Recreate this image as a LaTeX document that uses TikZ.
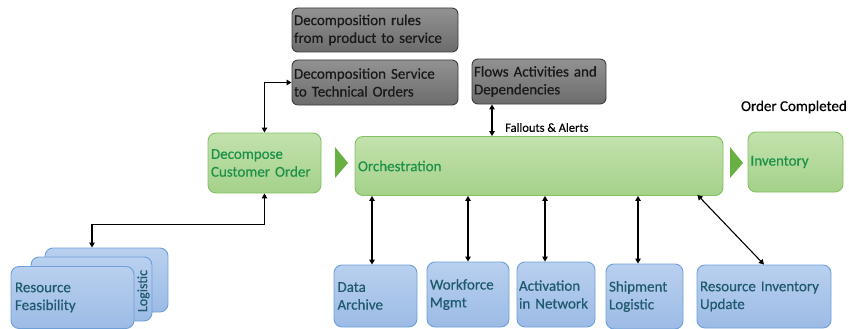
\documentclass[tikz,border=0pt]{standalone}
\usepackage{fontspec}
\setmainfont{Carlito}[FakeBold=0.45]
\usetikzlibrary{arrows.meta,calc}

\definecolor{grnTop}{HTML}{C3E2AD}
\definecolor{grnBot}{HTML}{A4D18A}
\definecolor{grnEdge}{HTML}{82C061}
\definecolor{grnText}{HTML}{1E9148}
\definecolor{chev}{HTML}{69B043}
\definecolor{gryTop}{HTML}{929292}
\definecolor{gryBot}{HTML}{6C6C6C}
\definecolor{gryEdge}{HTML}{3C3C3C}
\definecolor{bluTop}{HTML}{B9D0EF}
\definecolor{bluBot}{HTML}{9CBBE5}
\definecolor{bluEdge}{HTML}{6E9FD9}
\definecolor{bluText}{HTML}{1F5A6E}

\tikzset{
  basebox/.style={rectangle, inner sep=0pt, align=left, font=\fontsize{15}{17.8}\selectfont},
  greenbox/.style={basebox, rounded corners=8pt, draw=grnEdge, line width=0.9pt,
    top color=grnTop, bottom color=grnBot, text=grnText},
  graybox/.style={basebox, rounded corners=6pt, draw=gryEdge, line width=0.9pt,
    top color=gryTop, bottom color=gryBot, text=black!90},
  bluebox/.style={basebox, rounded corners=8pt, draw=bluEdge, line width=0.9pt,
    top color=bluTop, bottom color=bluBot, text=bluText},
  link/.style={line width=1.1pt, black, {Triangle[width=5.5pt,length=5pt]}-{Triangle[width=5.5pt,length=5pt]}},
  chevron/.style={fill=chev, draw=none}
}

\begin{document}
\begin{tikzpicture}[x=1pt, y=-1pt]
\useasboundingbox (0,0) rectangle (849,329);

% knowledge boxes (gray)
\node[graybox, minimum width=166pt, minimum height=44pt, text width=162pt] (g1) at (375,30)
  {Decomposition rules\\from product to service};
\node[graybox, minimum width=166pt, minimum height=45pt, text width=162pt] (g2) at (375,82.5)
  {Decomposition Service\\to Technical Orders};
\node[graybox, minimum width=134pt, minimum height=45pt, text width=130pt] (flows) at (539,81.5)
  {Flows Activities and\\Dependencies};

% main process (green)
\node[greenbox, minimum width=113pt, minimum height=60pt, text width=107pt] (dec) at (264.5,163)
  {Decompose\\Customer Order};
\node[greenbox, minimum width=368pt, minimum height=59pt, text width=362pt] (orch) at (539,166)
  {Orchestration};
\node[greenbox, minimum width=95pt, minimum height=60pt, text width=90pt] (inv) at (795.5,162)
  {Inventory};

\fill[chevron] (335,147) -- (348,163) -- (335,178) -- cycle;
\fill[chevron] (730,147) -- (743,163) -- (730,178) -- cycle;

\node[font=\fontsize{15}{18}\selectfont, anchor=east, inner sep=0pt] (done) at (847,107) {Order Completed};

% resource feasibility stack
\node[bluebox, minimum width=123pt, minimum height=64pt] (back) at (106.5,280) {};
\node[bluebox, minimum width=121pt, minimum height=64pt] (midc) at (91.5,289) {};
\node[bluebox, minimum width=123pt, minimum height=62pt, text width=115pt] (front) at (72.5,297.5)
  {Resource\\Feasibility};
\node[rotate=90, text=bluText, font=\fontsize{14}{16}\selectfont, inner sep=0pt] (logi) at (143.5,291) {Logistic};

% execution systems (blue)
\node[bluebox, minimum width=83pt, minimum height=62pt, text width=76pt] (da) at (375.5,296)
  {Data\\Archive};
\node[bluebox, minimum width=82pt, minimum height=65pt, text width=76pt] (wf) at (468,294.5)
  {Workforce\\Mgmt};
\node[bluebox, minimum width=78pt, minimum height=65pt, text width=74pt] (act) at (556,294.5)
  {Activation\\in Network};
\node[bluebox, minimum width=77pt, minimum height=65pt, text width=71pt] (ship) at (644.5,296.5)
  {Shipment\\Logistic};
\node[bluebox, minimum width=134pt, minimum height=63pt, text width=128pt] (riu) at (764,296.5)
  {Resource Inventory\\Update};

% connectors
\draw[link] (dec.north) |- (g2.west);
\draw[link] (dec.south) -- ++(0,31) -| ([xshift=-14.5pt]back.north);
\draw[link] ([xshift=-47pt]flows.south) -- ([xshift=-47pt]flows.south |- orch.north);
\node[font=\fontsize{12.5}{14}\selectfont, anchor=west, inner sep=0pt] (fa) at (505,127.5) {Fallouts \& Alerts};
\draw[link] ([xshift=-3.5pt]da.north) -- ([xshift=-3.5pt]da.north |- orch.south);
\draw[link] (wf.north) -- (wf.north |- orch.south);
\draw[link] ([xshift=-11pt]act.north) -- ([xshift=-11pt]act.north |- orch.south);
\draw[link] ([xshift=-6.5pt]ship.north) -- ([xshift=-6.5pt]ship.north |- orch.south);
\draw[link] ([xshift=-26pt,yshift=1pt]orch.south east) -- (riu.north);
\end{tikzpicture}
\end{document}
